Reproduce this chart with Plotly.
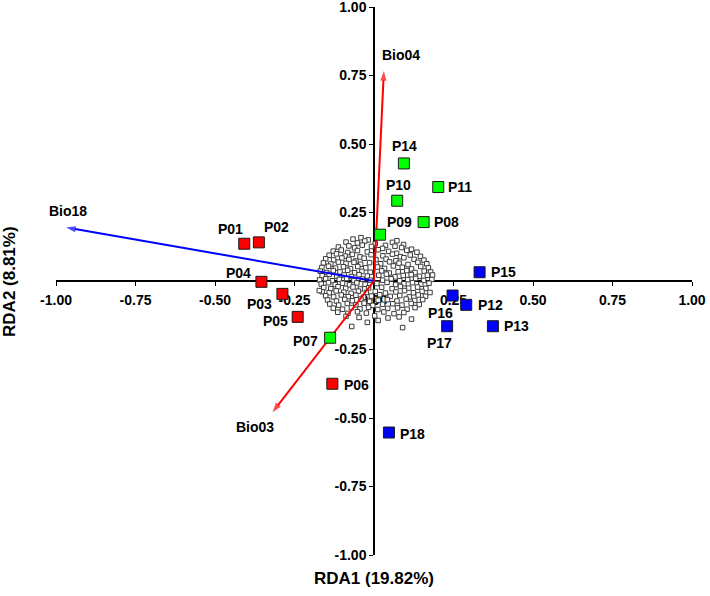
import plotly.graph_objects as go

# ---------------- data ----------------
pop_names = ["P01", "P02", "P03", "P04", "P05", "P06", "P07", "P08", "P09",
             "P10", "P11", "P12", "P13", "P14", "P15", "P16", "P17", "P18"]
pop_x = [-0.408, -0.362, -0.288, -0.354, -0.240, -0.131, -0.138, 0.156, 0.019,
         0.073, 0.202, 0.290, 0.374, 0.094, 0.332, 0.247, 0.230, 0.047]
pop_y = [0.136, 0.141, -0.047, -0.003, -0.131, -0.375, -0.207, 0.215, 0.169,
         0.293, 0.343, -0.087, -0.165, 0.429, 0.032, -0.053, -0.165, -0.553]
pop_group = ["red", "red", "red", "red", "red", "red", "green", "green", "green",
             "green", "green", "blue", "blue", "green", "blue", "blue", "blue", "blue"]

env_names = ["Bio04", "Bio18", "Bio03"]
env_x = [0.031, -0.968, -0.319]
env_y = [0.766, 0.195, -0.479]

x_tickvals = [-1.0, -0.75, -0.5, -0.25, 0.0, 0.25, 0.5, 0.75, 1.0]
x_ticktext = ["-1.00", "-0.75", "-0.50", "-0.25", "0.00", "0.25", "0.50", "0.75", "1.00"]
y_tickvals = [-1.0, -0.75, -0.5, -0.25, 0.25, 0.5, 0.75, 1.0]
y_ticktext = ["-1.00", "-0.75", "-0.50", "-0.25", "0.25", "0.50", "0.75", "1.00"]

x_title = "RDA1 (19.82%)"
y_title = "RDA2 (8.81%)"

# SNP scores (read band by band from the cloud around the origin)
snp_x = [
    -0.066, -0.041, -0.018, 0.072,
    -0.088, -0.052, -0.029, 0.004, 0.058, 0.093, 0.036,
    -0.112, -0.079, -0.061, -0.037, -0.008, 0.027, 0.066, 0.087, 0.118,
    -0.128, -0.103, -0.083, -0.052, -0.021, 0.013, 0.046, 0.071, 0.103, 0.135,
    -0.141, -0.118, -0.091, -0.068, -0.044, -0.009, 0.028, 0.058, 0.083, 0.114, 0.146,
    -0.152, -0.127, -0.101, -0.079, -0.057, -0.031, 0.006, 0.038, 0.069, 0.094, 0.126, 0.157,
    -0.159, -0.136, -0.112, -0.088, -0.063, -0.042, -0.014, 0.021, 0.049, 0.079, 0.107, 0.138, 0.166,
    -0.164, -0.143, -0.121, -0.096, -0.074, -0.051, -0.026, 0.011, 0.033, 0.061, 0.089, 0.118, 0.147, 0.171,
    -0.169, -0.149, -0.128, -0.107, -0.083, -0.061, -0.038, -0.012, 0.024, 0.048, 0.076, 0.103, 0.129, 0.158, 0.178,
    -0.163, -0.141, -0.117, -0.094, -0.071, -0.047, -0.021, 0.015, 0.039, 0.066, 0.092, 0.117, 0.143, 0.168,
    -0.171, -0.152, -0.131, -0.109, -0.086, -0.063, -0.036, -0.011, 0.027, 0.054, 0.081, 0.106, 0.131, 0.156, 0.182,
    -0.166, -0.143, -0.122, -0.099, -0.077, -0.054, -0.028, 0.009, 0.041, 0.068, 0.094, 0.121, 0.147, 0.173,
    -0.158, -0.136, -0.113, -0.089, -0.066, -0.043, -0.017, 0.024, 0.057, 0.083, 0.109, 0.137, 0.163,
    -0.163, -0.141, -0.119, -0.095, -0.072, -0.049, -0.024, 0.004, 0.036, 0.069, 0.096, 0.124, 0.151,
    -0.152, -0.127, -0.103, -0.081, -0.057, -0.033, -0.008, 0.018, 0.051, 0.081, 0.111, 0.139, 0.162,
    -0.146, -0.118, -0.092, -0.068, -0.041, -0.014, 0.013, 0.042, 0.072, 0.101, 0.128, 0.153,
    -0.139, -0.111, -0.084, -0.057, -0.031, -0.004, 0.027, 0.059, 0.088, 0.117, 0.142,
    -0.128, -0.099, -0.071, -0.044, -0.017, 0.012, 0.043, 0.074, 0.104, 0.129,
    -0.114, -0.082, -0.052, -0.024, 0.031, 0.063, 0.094,
    -0.088, -0.047, 0.002, 0.044, 0.079,
    -0.070, 0.090, 0.013, -0.021, 0.118, 0.176, 0.184, -0.172,
]
snp_y = [
    0.153, 0.158, 0.150, 0.147,
    0.142, 0.139, 0.146, 0.136, 0.141, 0.133, 0.130,
    0.124, 0.128, 0.121, 0.131, 0.126, 0.119, 0.127, 0.122, 0.116,
    0.109, 0.113, 0.104, 0.111, 0.106, 0.114, 0.108, 0.101, 0.112, 0.105,
    0.094, 0.099, 0.091, 0.097, 0.088, 0.096, 0.092, 0.098, 0.089, 0.095, 0.090,
    0.081, 0.077, 0.084, 0.079, 0.073, 0.083, 0.078, 0.080, 0.074, 0.085, 0.079, 0.076,
    0.066, 0.062, 0.069, 0.064, 0.068, 0.061, 0.067, 0.063, 0.070, 0.065, 0.060, 0.068, 0.063,
    0.049, 0.054, 0.047, 0.052, 0.045, 0.053, 0.048, 0.051, 0.046, 0.055, 0.050, 0.044, 0.053, 0.048,
    0.036, 0.031, 0.038, 0.033, 0.039, 0.030, 0.035, 0.032, 0.037, 0.029, 0.034, 0.038, 0.031, 0.036, 0.033,
    0.019, 0.024, 0.017, 0.022, 0.016, 0.023, 0.018, 0.021, 0.025, 0.015, 0.020, 0.023, 0.017, 0.021,
    0.004, 0.008, 0.001, 0.006, 0.009, 0.002, 0.007, 0.003, 0.003, 0.008, 0.001, 0.005, 0.009, 0.002, 0.006,
    -0.011, -0.006, -0.013, -0.008, -0.014, -0.007, -0.012, -0.009, -0.005, -0.013, -0.010, -0.006, -0.012, -0.008,
    -0.024, -0.028, -0.021, -0.027, -0.022, -0.029, -0.025, -0.023, -0.028, -0.020, -0.026, -0.022, -0.027,
    -0.039, -0.043, -0.036, -0.041, -0.045, -0.037, -0.042, -0.038, -0.044, -0.040, -0.035, -0.043, -0.038,
    -0.054, -0.058, -0.051, -0.057, -0.052, -0.059, -0.055, -0.050, -0.056, -0.053, -0.058, -0.051, -0.056,
    -0.069, -0.073, -0.067, -0.072, -0.066, -0.074, -0.070, -0.068, -0.073, -0.066, -0.071, -0.068,
    -0.084, -0.088, -0.082, -0.087, -0.081, -0.089, -0.085, -0.083, -0.088, -0.082, -0.086,
    -0.099, -0.103, -0.097, -0.102, -0.096, -0.104, -0.100, -0.098, -0.103, -0.097,
    -0.114, -0.118, -0.112, -0.117, -0.113, -0.119, -0.115,
    -0.129, -0.133, -0.127, -0.135, -0.131,
    -0.166, -0.170, -0.144, -0.151, -0.139, -0.042, 0.022, -0.035,
]

# ---------------- styles ----------------
colors = {"red": "#FF0000", "green": "#00FF00", "blue": "#0000FF"}
env_colors = ["#FF0000", "#0000FF", "#FF0000"]
# label offsets (pixels, dx right / dy up) for population names
pop_label_shift = [(-14, 15), (18, 15), (-23, -10), (-23, 9), (-22, -4), (24, -1),
                   (-25, -3), (23, 0), (19, 13), (1, 16), (22, 0), (24, 0),
                   (24, 0), (1, 17), (24, 0), (-12, -17), (-8, -17), (24, -1)]
env_label_shift = [(17, 16), (2, 17), (-18, -15)]

FONT = "Arial, Liberation Sans, sans-serif"

fig = go.Figure()

# SNP cloud
fig.add_trace(go.Scatter(
    x=snp_x, y=snp_y, mode="markers",
    marker=dict(symbol="square", size=4.5, color="white",
                line=dict(color="#3a3a3a", width=1)),
    hoverinfo="skip", showlegend=False))

# environmental arrows
for name, ex, ey, c in zip(env_names, env_x, env_y, env_colors):
    fig.add_trace(go.Scatter(
        x=[0, ex], y=[0, ey], mode="lines+markers",
        line=dict(color=c, width=2),
        marker=dict(symbol=["circle", "arrow"], size=[0, 10], color=c,
                    angleref="previous", line=dict(width=0)),
        hoverinfo="skip", showlegend=False))

# populations
for g in ["red", "green", "blue"]:
    idx = [i for i, gg in enumerate(pop_group) if gg == g]
    fig.add_trace(go.Scatter(
        x=[pop_x[i] for i in idx], y=[pop_y[i] for i in idx], mode="markers",
        marker=dict(symbol="square", size=11, color=colors[g],
                    line=dict(color="#1a1a1a", width=1)),
        text=[pop_names[i] for i in idx], hoverinfo="text", showlegend=False))

annotations = []
for name, px, py, (dx, dy) in zip(pop_names, pop_x, pop_y, pop_label_shift):
    annotations.append(dict(x=px, y=py, xref="x", yref="y", text=name,
                            showarrow=False, xshift=dx, yshift=dy,
                            font=dict(family=FONT, size=14, color="black", weight="bold")))
for name, ex, ey, (dx, dy) in zip(env_names, env_x, env_y, env_label_shift):
    annotations.append(dict(x=ex, y=ey, xref="x", yref="y", text=name,
                            showarrow=False, xshift=dx, yshift=dy,
                            font=dict(family=FONT, size=14, color="black", weight="bold")))
annotations.append(dict(x=0.5, y=0, xref="paper", yref="paper", text=x_title,
                        showarrow=False, xanchor="center", yanchor="top", yshift=-12,
                        font=dict(family=FONT, size=17, color="black", weight="bold")))
annotations.append(dict(x=-0.074, y=0.5, xref="paper", yref="paper", text=y_title,
                        showarrow=False, xanchor="center", yanchor="middle", textangle=-90,
                        font=dict(family=FONT, size=17, color="black", weight="bold")))

axis_common = dict(showgrid=False, zeroline=False, showline=True, linecolor="black",
                   linewidth=1.5, ticks="outside", ticklen=4, tickcolor="black",
                   tickwidth=1, range=[-1, 1], anchor="free", position=0.5,
                   layer="below traces", automargin=False, ticklabeloverflow="allow",
                   tickfont=dict(family=FONT, size=14, color="black", weight="bold"))

fig.update_layout(
    width=710, height=596,
    margin=dict(l=56, r=18, t=7, b=41, autoexpand=False),
    paper_bgcolor="white", plot_bgcolor="white",
    xaxis=dict(**axis_common, tickvals=x_tickvals, ticktext=x_ticktext,
               ticklabelstandoff=2),
    yaxis=dict(**axis_common, tickvals=y_tickvals, ticktext=y_ticktext),
    annotations=annotations,
    showlegend=False,
)

fig.write_html("out.html", config={"displayModeBar": False},
               post_script="document.body.style.margin='0';document.body.style.padding='0';")
